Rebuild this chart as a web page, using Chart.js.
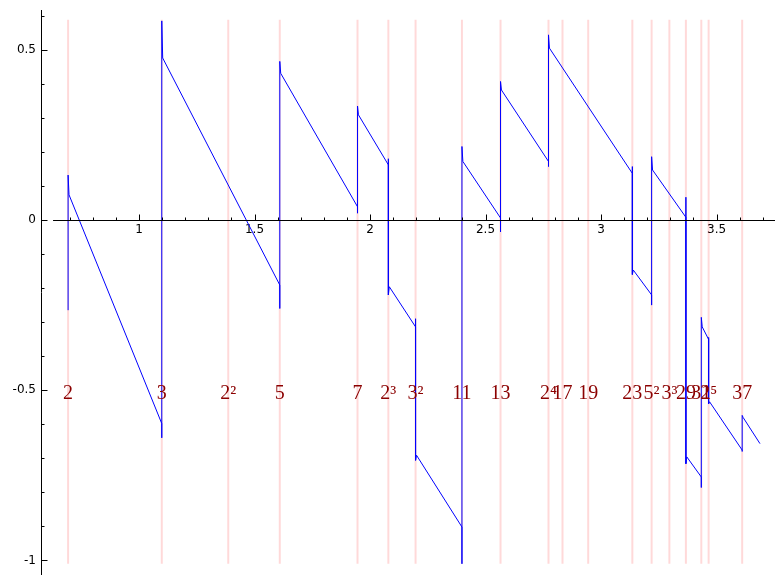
<!DOCTYPE html>
<html><head><meta charset="utf-8">
<script src="https://cdn.jsdelivr.net/npm/chart.js@4.4.1/dist/chart.umd.min.js"></script>
<style>html,body{margin:0;padding:0;background:#fff;} canvas{display:block;}</style>
</head><body>
<canvas id="c" width="783" height="584"></canvas>
<script>
// prime-power markers (horizontal axis is log x)
const primePowerLabels = ['2','3','2²','5','7','2³','3²','11','13','2⁴','17','19','23','5²','3³','29','31','2⁵','37'];
const primePowerT = [0.6931,1.0986,1.3863,1.6094,1.9459,2.0794,2.1972,2.3979,2.5649,2.7726,2.8332,2.9444,3.1355,3.2189,3.2958,3.3673,3.4340,3.4657,3.6109];
const markerBottom = -1.01;
const markerTop = 0.588;
const labelValue = -0.5;

// sawtooth curve: jumps, overshoots and straight pieces between them
const jumpT     = [0.6931, 1.0986, 1.6094, 1.9459, 2.0794, 2.1972, 2.3979, 2.5649, 2.7726, 3.1355, 3.2189, 3.3673, 3.4340, 3.4657, 3.6109];
const preSpike  = [-0.265, -0.640, -0.260,  0.020,  0.180, -0.290, -1.010, -0.035,  0.157,  0.157, -0.250,  0.067, -0.786, -0.345, -0.680];
const postSpike = [ 0.132,  0.585,  0.466,  0.335, -0.220, -0.706,  0.216,  0.407,  0.544, -0.160,  0.186, -0.716, -0.286, -0.540, -0.574];
const segStart  = [ 0.074,  0.476,  0.431,  0.309, -0.196, -0.691,  0.172,  0.382,  0.505, -0.147,  0.147, -0.696, -0.314, -0.534, -0.580];
const segEnd    = [-0.598, -0.191,  0.039,  0.162, -0.314, -0.902,  0.006,  0.172,  0.137, -0.220,  0.008, -0.755, -0.351, -0.676, -0.657];
const curveEndT = 3.688;

// axes
const xTickValues = [1, 1.5, 2, 2.5, 3, 3.5];
const yTickValues = [-1, -0.5, 0, 0.5];
const xRange = [0.5758, 3.753];
const yRange = [-1.040, 0.617];
const xAxisStart = 0.628;

const curve = [];
for (let i = 0; i < jumpT.length; i++) {
  const t = jumpT[i];
  if (i > 0) curve.push({x: t, y: segEnd[i - 1]});
  curve.push({x: t, y: preSpike[i]});
  curve.push({x: t, y: postSpike[i]});
  curve.push({x: t + 0.004, y: segStart[i]});
}
curve.push({x: curveEndT, y: segEnd[segEnd.length - 1]});

const markers = [];
primePowerT.forEach(t => {
  markers.push({x: t, y: markerBottom}, {x: t, y: markerTop}, {x: t, y: null});
});

const decor = {
  id: 'decor',
  afterDraw(chart) {
    const {ctx, chartArea} = chart;
    const xs = chart.scales.x, ys = chart.scales.y;
    ctx.save();
    ctx.strokeStyle = '#000';
    ctx.lineWidth = 1;
    const y0 = Math.round(ys.getPixelForValue(0)) + 0.5;
    ctx.beginPath();
    ctx.moveTo(xs.getPixelForValue(xAxisStart), y0);
    ctx.lineTo(chartArea.right, y0);
    ctx.stroke();
    // x ticks (pointing up)
    ctx.beginPath();
    for (let i = 7; i <= 37; i++) {
      const px = Math.round(xs.getPixelForValue(i / 10)) + 0.5;
      const len = (i % 5 === 0) ? 6 : 3;
      ctx.moveTo(px, y0);
      ctx.lineTo(px, y0 - len);
    }
    ctx.stroke();
    // y ticks (pointing right)
    const x0 = Math.round(chartArea.left) + 0.5;
    ctx.beginPath();
    for (let i = -10; i <= 6; i++) {
      const py = Math.round(ys.getPixelForValue(i / 10)) + 0.5;
      const len = (i % 5 === 0) ? 6 : 3;
      ctx.moveTo(x0, py);
      ctx.lineTo(x0 + len, py);
    }
    ctx.stroke();
    // prime power labels
    ctx.fillStyle = '#8b0000';
    ctx.font = '20px "Liberation Serif", "DejaVu Serif", serif';
    ctx.textAlign = 'center';
    ctx.textBaseline = 'alphabetic';
    const ly = ys.getPixelForValue(labelValue) + 9;
    primePowerT.forEach((t, i) => {
      ctx.fillText(primePowerLabels[i], xs.getPixelForValue(t), ly);
    });
    ctx.restore();
  }
};

new Chart(document.getElementById('c'), {
  type: 'line',
  data: {
    datasets: [
      {data: curve, borderColor: '#0000ff', borderWidth: 1, pointRadius: 0, tension: 0, fill: false},
      {data: markers, borderColor: 'rgba(255,0,0,0.15)', borderWidth: 2, pointRadius: 0, tension: 0, fill: false, spanGaps: false}
    ]
  },
  options: {
    responsive: false,
    animation: false,
    devicePixelRatio: 1,
    layout: {padding: {top: 10, bottom: 10, right: 8, left: 0}},
    plugins: {legend: {display: false}, tooltip: {enabled: false}},
    scales: {
      x: {
        type: 'linear', min: xRange[0], max: xRange[1], position: {y: 0},
        grid: {display: false}, border: {display: false},
        ticks: {padding: -5, color: '#000', font: {family: 'DejaVu Sans', size: 12}, callback: v => String(v)},
        afterBuildTicks: s => { s.ticks = xTickValues.map(v => ({value: v})); },
        afterFit: s => { s.paddingLeft = 0; s.paddingRight = 0; s.paddingTop = 0; s.paddingBottom = 0; }
      },
      y: {
        type: 'linear', min: yRange[0], max: yRange[1], position: 'left',
        grid: {display: true, drawOnChartArea: false, drawTicks: false},
        border: {display: true, color: '#000', width: 1},
        ticks: {padding: 5, color: '#000', font: {family: 'DejaVu Sans', size: 12}, callback: v => String(v)},
        afterBuildTicks: s => { s.ticks = yTickValues.map(v => ({value: v})); },
        afterFit: s => { s.width = 41; s.paddingTop = 0; s.paddingBottom = 0; }
      }
    }
  },
  plugins: [decor]
});
</script>
</body></html>
